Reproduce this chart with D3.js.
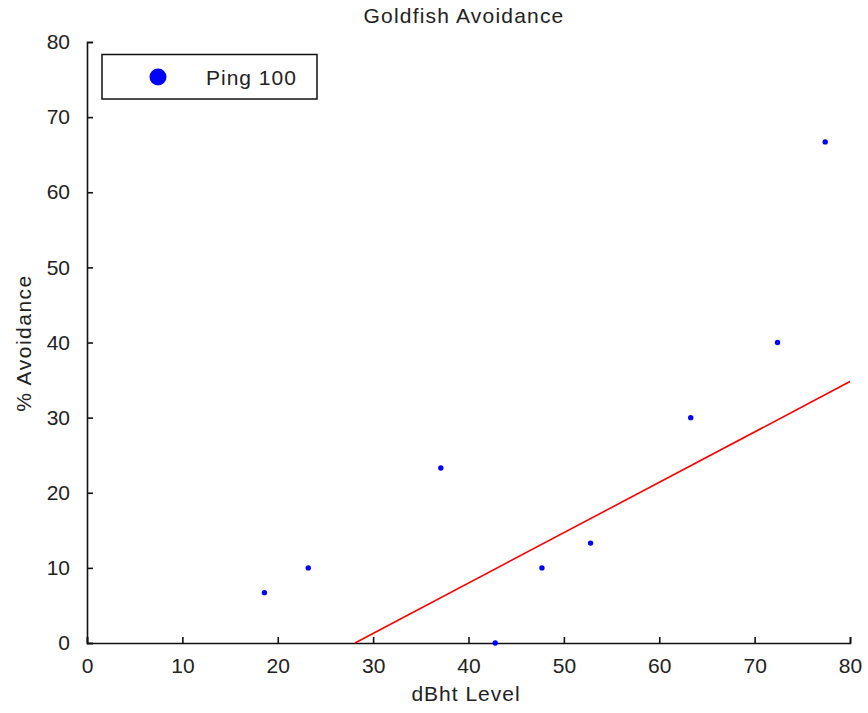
<!DOCTYPE html>
<html><head><meta charset="utf-8">
<script src="https://d3js.org/d3.v7.min.js"></script>
<style>
body{margin:0;background:#fff;}
text{font-family:"Liberation Sans",Arial,sans-serif;fill:#222;}
</style></head>
<body><svg id="c" width="868" height="713"></svg>
<script>
const dbLevels = [18.6, 23.2, 37.1, 42.8, 47.7, 52.8, 63.3, 72.4, 77.4];
const avoidance = [6.7, 10, 23.3, 0, 10, 13.3, 30, 40, 66.7];
const fitX = [28.1, 80];
const fitY = [0, 34.8];
const xTicks = [0,10,20,30,40,50,60,70,80];
const yTicks = [0,10,20,30,40,50,60,70,80];
const seriesName = "Ping 100";

const svg = d3.select("#c");
const x = d3.scaleLinear().domain([0,80]).range([87,850]);
const y = d3.scaleLinear().domain([0,80]).range([643,42]);

// title and labels
svg.append("text").attr("x",464).attr("y",23).attr("text-anchor","middle")
  .style("font-size","21px").style("letter-spacing","1.2px").text("Goldfish Avoidance");
svg.append("text").attr("x",466).attr("y",701).attr("text-anchor","middle")
  .style("font-size","21px").style("letter-spacing","1px").text("dBht Level");
svg.append("text").attr("transform","translate(31,343) rotate(-90)").attr("text-anchor","middle")
  .style("font-size","21px").style("letter-spacing","1.5px").text("% Avoidance");

// axes
const xAxis = d3.axisBottom(x).tickValues(xTicks).tickSize(-6).tickPadding(19).tickFormat(d3.format("d"));
const yAxis = d3.axisLeft(y).tickValues(yTicks).tickSize(-6).tickPadding(17).tickFormat(d3.format("d"));
const gx = svg.append("g").attr("transform","translate(0,643)").call(xAxis);
const gy = svg.append("g").attr("transform","translate(87,0)").call(yAxis);
[gx,gy].forEach(g=>{
  g.select(".domain").attr("stroke","#111").attr("stroke-width",1.6);
  g.selectAll(".tick line").attr("stroke","#111").attr("stroke-width",1.6);
  g.selectAll(".tick text").style("font-size","21px").attr("fill","#222").style("font-family","'Liberation Sans',Arial,sans-serif");
});
gx.selectAll(".tick text").attr("dy","0.5em");

// fit line
svg.append("path").datum(fitX.map((d,i)=>[d,fitY[i]]))
  .attr("d", d3.line().x(d=>x(d[0])).y(d=>y(d[1])))
  .attr("stroke","#ff0000").attr("stroke-width",1.6).attr("fill","none");

// points
svg.append("g").selectAll("circle").data(dbLevels.map((d,i)=>[d,avoidance[i]])).join("circle")
  .attr("cx",d=>x(d[0])).attr("cy",d=>y(d[1])).attr("r",2.7).attr("fill","#0000ff");

// legend
const lg = svg.append("g");
lg.append("rect").attr("x",102).attr("y",54.5).attr("width",215).attr("height",44.5)
  .attr("fill","#fff").attr("stroke","#111").attr("stroke-width",1.5);
lg.append("circle").attr("cx",158).attr("cy",77).attr("r",8.5).attr("fill","#0000ff");
lg.append("text").attr("x",206).attr("y",85).style("font-size","21px").style("letter-spacing","1px").text(seriesName);
</script></body></html>
